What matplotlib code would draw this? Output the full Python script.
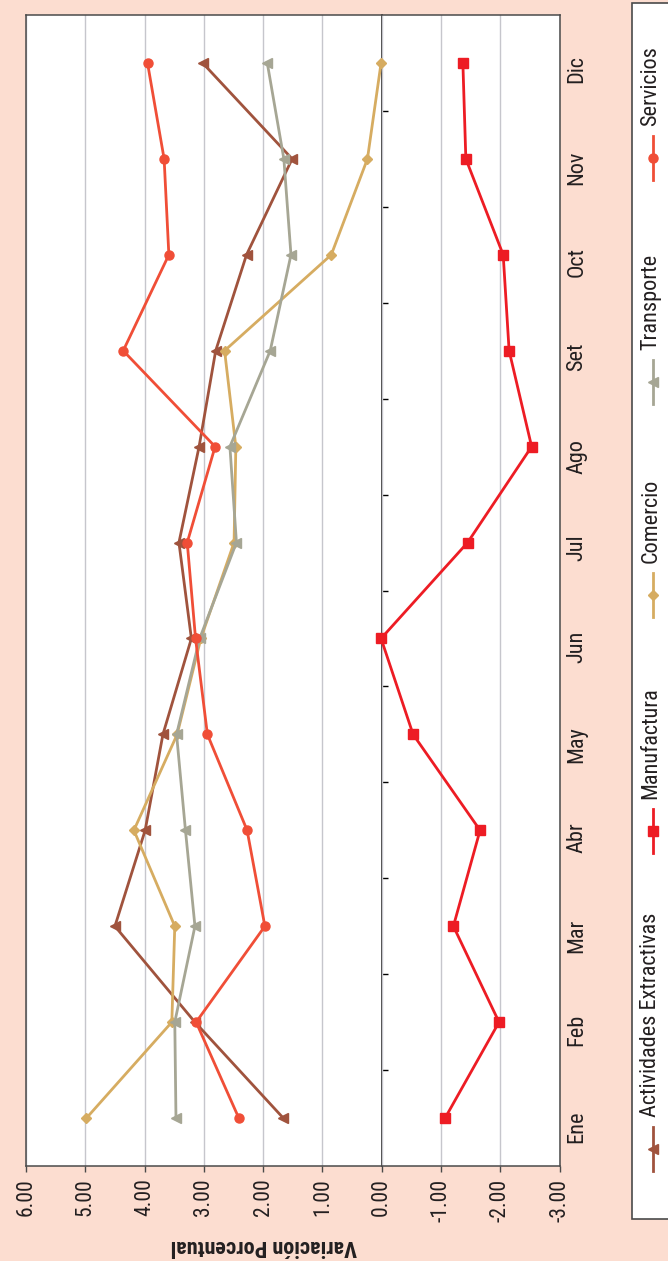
import matplotlib
matplotlib.use("Agg")
import matplotlib.pyplot as plt
from matplotlib import font_manager as fm
from matplotlib.lines import Line2D
from matplotlib.patches import Rectangle
import numpy as np

# ---------------- data ----------------
months = ['Ene', 'Feb', 'Mar', 'Abr', 'May', 'Jun', 'Jul', 'Ago', 'Set', 'Oct', 'Nov', 'Dic']
value_ticks = [6, 5, 4, 3, 2, 1, 0, -1, -2, -3]

actividades = [1.66, 3.15, 4.50, 3.99, 3.69, 3.21, 3.42, 3.08, 2.80, 2.28, 1.51, 3.02]
manufactura = [-1.07, -1.98, -1.21, -1.66, -0.53, 0.01, -1.45, -2.53, -2.15, -2.05, -1.42, -1.37]
comercio = [4.98, 3.54, 3.49, 4.18, 3.45, 3.05, 2.49, 2.46, 2.65, 0.85, 0.24, 0.01]
transporte = [3.47, 3.49, 3.15, 3.31, 3.46, 3.07, 2.45, 2.56, 1.88, 1.53, 1.65, 1.93]
servicios = [2.41, 3.13, 1.97, 2.27, 2.94, 3.14, 3.28, 2.81, 4.36, 3.59, 3.67, 3.95]

series_names = ['Actividades Extractivas', 'Manufactura', 'Comercio', 'Transporte', 'Servicios']
series_values = [actividades, manufactura, comercio, transporte, servicios]

# ---------------- style ----------------
colors = ['#A0533D', '#ED1C24', '#D6AC61', '#A6A694', '#F04E37']
markers = ['<', 's', 'D', '<', 'o']
msizes = [7, 7.5, 5.5, 7.5, 6.5]
BG = '#FCDDD0'
FRAME = '#4A4A4A'
TXT = '#231F20'

avail = {f.name for f in fm.fontManager.ttflist}
font = next((f for f in ['Liberation Sans Narrow', 'Roboto Condensed', 'Liberation Sans']
             if f in avail), 'DejaVu Sans')
plt.rcParams['font.family'] = [font, 'DejaVu Sans']

W, H = 668, 1261
fig = plt.figure(figsize=(W / 100, H / 100), dpi=100, facecolor=BG)


def fx(px):
    return px / W


def fy(py):
    return 1 - py / H


L, R, T, B = 26, 559.5, 15, 1166
ax = fig.add_axes([fx(L), fy(B), fx(R) - fx(L), fy(T) - fy(B)])
ax.set_facecolor('white')
ax.set_xlim(6, -3)
ax.set_ylim(-0.5, len(months) - 0.5)

# value axis (horizontal, inverted)
ax.set_xticks(value_ticks)
ax.set_xticklabels([f"{v:.2f}" for v in value_ticks], rotation=90, va='top', ha='center',
                   fontsize=15.5, color=TXT)
ax.tick_params(axis='x', direction='out', length=4, width=1, color=FRAME, pad=5)
ax.grid(axis='x', color='#C6C6CC', linewidth=1.0)
ax.set_axisbelow(True)

# category axis (vertical)
ypos = np.arange(len(months))
ax.set_yticks(ypos)
ax.set_yticklabels(months, rotation=90, fontsize=16, color=TXT)
for lab in ax.get_yticklabels():
    lab.set_va('center')
    lab.set_ha('left')
ax.tick_params(axis='y', length=0, labelleft=False, labelright=True, pad=5)

for sp in ax.spines.values():
    sp.set_color(FRAME)
    sp.set_linewidth(1.1)

# zero line with category boundary ticks
zero_frac = (6 - 0) / 9.0
sec = ax.secondary_yaxis(zero_frac)
sec.set_yticks(np.arange(len(months) - 1) + 0.5)
sec.tick_params(axis='y', direction='out', length=4, width=1, color='black',
                labelleft=False, labelright=False)
for sp in sec.spines.values():
    sp.set_color('black')
    sp.set_linewidth(1.1)

# series
for name, vals, c, m, ms in zip(series_names, series_values, colors, markers, msizes):
    ax.plot(vals, ypos, color=c, linewidth=2.0, marker=m, markersize=ms,
            markeredgecolor=c, markerfacecolor=c, label=name, zorder=3)

# axis title (rotated upside down as in the reference)
fig.text(fx(263.5), fy(1246), 'Variación Porcentual', rotation=180, ha='center', va='center',
         fontsize=16, fontweight='bold', color=TXT)

# legend box (vertical, on the right)
fig.patches.append(Rectangle((fx(632), fy(1219)), fx(W + 10) - fx(632), fy(3) - fy(1219),
                             transform=fig.transFigure, facecolor='white', edgecolor=FRAME,
                             linewidth=1.2, zorder=1))
leg_marker_y = [1149, 831, 595, 382, 158]
for name, c, m, ms, my in zip(series_names, colors, markers, msizes, leg_marker_y):
    fig.add_artist(Line2D([fx(653), fx(653)], [fy(my + 22), fy(my - 22)],
                          transform=fig.transFigure, color=c, linewidth=2.0, zorder=2))
    fig.add_artist(Line2D([fx(653)], [fy(my)], transform=fig.transFigure, color=c,
                          marker=m, markersize=ms, markeredgecolor=c, markerfacecolor=c,
                          linestyle='none', zorder=3))
    fig.text(fx(651), fy(my - 32), name, rotation=90, ha='center', va='bottom',
             fontsize=16, color=TXT, zorder=3)

fig.savefig('out.png', dpi=100, facecolor=BG)
